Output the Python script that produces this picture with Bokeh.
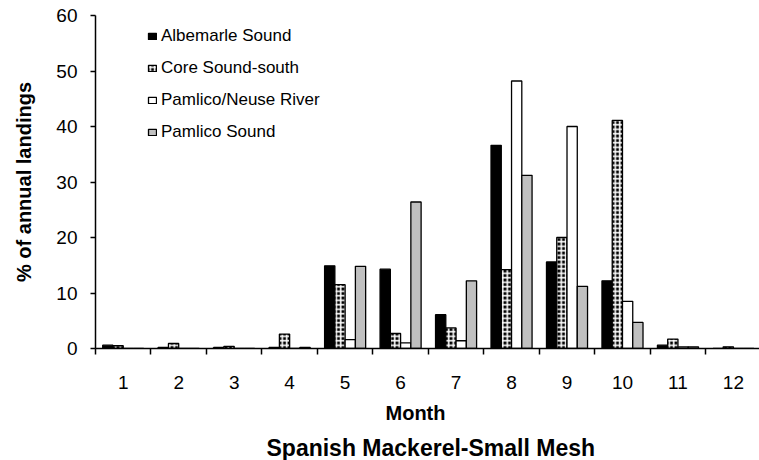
from bokeh.plotting import figure
from bokeh.models import ColumnDataSource, FixedTicker, Legend, LegendItem, Title, Range1d
from bokeh.transform import dodge
from bokeh.embed import file_html
from bokeh.resources import INLINE

months = [1, 2, 3, 4, 5, 6, 7, 8, 9, 10, 11, 12]
month_labels = ["1", "2", "3", "4", "5", "6", "7", "8", "9", "10", "11", "12"]
series_names = ["Albemarle Sound", "Core Sound-south", "Pamlico/Neuse River", "Pamlico Sound"]
albemarle = [0.6, 0.2, 0.2, 0.2, 14.9, 14.3, 6.1, 36.6, 15.6, 12.2, 0.6, 0.0]
core_south = [0.5, 0.9, 0.4, 2.6, 11.5, 2.7, 3.7, 14.2, 20.0, 41.1, 1.7, 0.3]
pamlico_neuse = [0.0, 0.0, 0.0, 0.0, 1.6, 1.0, 1.4, 48.2, 40.0, 8.5, 0.3, 0.0]
pamlico_sound = [0.0, 0.0, 0.0, 0.2, 14.8, 26.4, 12.2, 31.2, 11.2, 4.7, 0.3, 0.0]
y_ticks = [0, 10, 20, 30, 40, 50, 60]

FONT = "Liberation Sans"

source = ColumnDataSource(dict(
    month=months,
    alb=albemarle,
    core=core_south,
    pn=pamlico_neuse,
    ps=pamlico_sound,
))

p = figure(width=759, height=460, output_backend="svg", toolbar_location=None,
           x_range=Range1d(0.5, 12.47), y_range=Range1d(0, 60),
           min_border_left=95, min_border_top=15, min_border_right=0, min_border_bottom=112)
p.outline_line_color = None
p.xgrid.visible = False
p.ygrid.visible = False

bw = 0.185
r1 = p.vbar(x=dodge("month", -0.2775, range=p.x_range), top="alb", width=bw, source=source,
            fill_color="black", line_color="black", line_width=1.3)
r2 = p.vbar(x=dodge("month", -0.0925, range=p.x_range), top="core", width=bw, source=source,
            fill_color="black", line_color="black", line_width=1.3,
            hatch_pattern="+", hatch_color="white", hatch_scale=4.5, hatch_weight=1.6)
r3 = p.vbar(x=dodge("month", 0.0925, range=p.x_range), top="pn", width=bw, source=source,
            fill_color="white", line_color="black", line_width=1.3)
r4 = p.vbar(x=dodge("month", 0.2775, range=p.x_range), top="ps", width=bw, source=source,
            fill_color="#c0c0c0", line_color="black", line_width=1.3)

# axes
xt = FixedTicker(ticks=months, minor_ticks=[m + 0.5 for m in [0] + months])
p.xaxis.ticker = xt
p.xaxis.major_label_overrides = {m: l for m, l in zip(months, month_labels)}
p.xaxis.major_tick_out = 0
p.xaxis.major_tick_in = 0
p.xaxis.minor_tick_out = 6
p.xaxis.minor_tick_in = 0
p.xaxis.minor_tick_line_color = "black"
p.xaxis.minor_tick_line_width = 1.5
p.xaxis.major_label_standoff = 21

p.yaxis.ticker = FixedTicker(ticks=y_ticks)
p.yaxis.minor_tick_line_color = None
p.yaxis.major_tick_out = 5
p.yaxis.major_tick_in = 0
p.yaxis.major_label_standoff = 13
p.yaxis.axis_label = "% of annual landings"
p.yaxis.axis_label_standoff = 18

for ax in (p.xaxis, p.yaxis):
    ax.axis_line_color = "black"
    ax.axis_line_width = 1.5
    ax.major_tick_line_color = "black"
    ax.major_tick_line_width = 1.5
    ax.major_label_text_font = FONT
    ax.major_label_text_font_size = "19px"
    ax.major_label_text_color = "black"
    ax.axis_label_text_font = FONT
    ax.axis_label_text_font_size = "20px"
    ax.axis_label_text_font_style = "bold"
    ax.axis_label_text_color = "black"

month_title = Title(text="Month", align="left", text_font=FONT,
                    text_font_size="20px", text_font_style="bold", text_color="black",
                    standoff=17, offset=290)
p.add_layout(month_title, "below")

title = Title(text="Spanish Mackerel-Small Mesh", align="left", text_font=FONT,
              text_font_size="23px", text_font_style="bold", text_color="black",
              standoff=0, offset=171)
p.add_layout(title, "below")

legend = Legend(items=[
    LegendItem(label=series_names[0], renderers=[r1]),
    LegendItem(label=series_names[1], renderers=[r2]),
    LegendItem(label=series_names[2], renderers=[r3]),
    LegendItem(label=series_names[3], renderers=[r4]),
], location=(52, 206))
legend.margin = 0
legend.padding = 0
legend.spacing = 12
legend.glyph_width = 10
legend.glyph_height = 8
legend.label_standoff = 4
legend.label_text_font = FONT
legend.label_text_font_size = "17px"
legend.label_text_color = "black"
legend.background_fill_alpha = 0
legend.border_line_color = None
p.add_layout(legend, "center")

open("out.html", "w").write(file_html(p, INLINE))
